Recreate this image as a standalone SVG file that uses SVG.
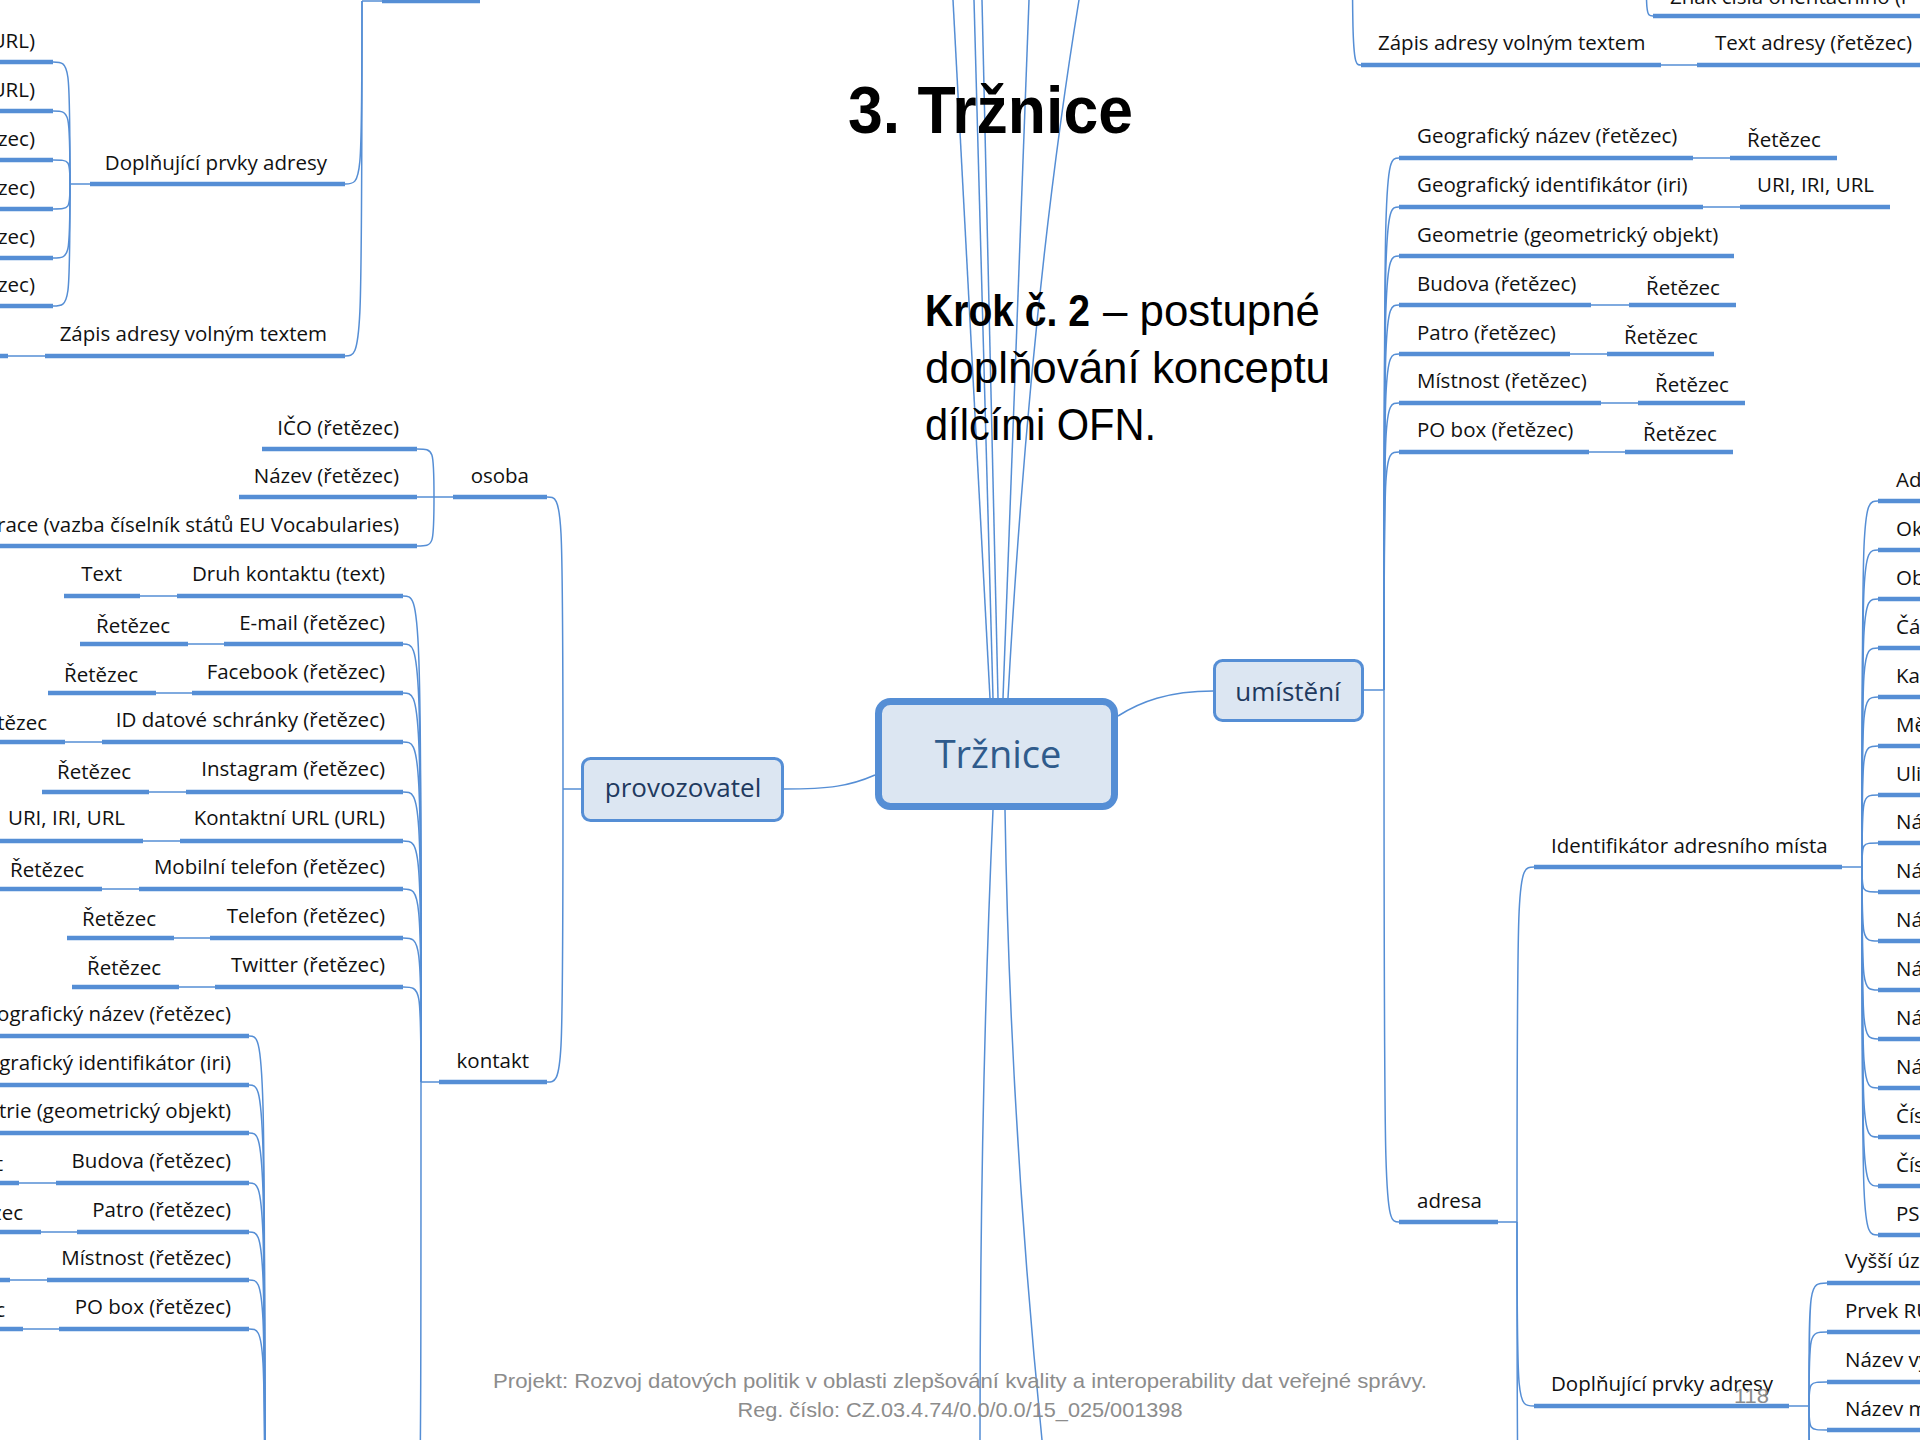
<svg xmlns="http://www.w3.org/2000/svg" width="1920" height="1440" viewBox="0 0 1920 1440">
<style>
.ul{stroke:#558ed5;stroke-width:4.5;fill:none}
.cn{stroke:#558ed5;stroke-width:1.5;fill:none}
.t{font-family:"Open Sans","Noto Sans",sans-serif;font-size:20.5px;fill:#111}
.e{text-anchor:end}
.box{fill:#dce6f2;stroke:#558ed5}
.foot{font-family:"Liberation Sans",Arial,sans-serif;font-size:21px;fill:#8c8c8c;text-anchor:middle}
.big{font-family:"Liberation Sans",Arial,sans-serif;font-size:44px;fill:#000}
</style>
<rect width="1920" height="1440" fill="#fff"/>

<g id="connectors">
<path class="cn" d="M 990,698 L 953,0"/>
<path class="cn" d="M 993,698 L 974,0"/>
<path class="cn" d="M 998,698 L 982,0"/>
<path class="cn" d="M 1003,698 L 1029,0"/>
<path class="cn" d="M 1008,698 Q 1030,300 1079,0"/>
<path class="cn" d="M 993,810 Q 980,1100 980,1440"/>
<path class="cn" d="M 1005,810 C 1008,1000 1018,1200 1042,1440"/>
<path class="cn" d="M 784,789 C 830,789 850,786 875,775"/>
<path class="cn" d="M 1118,716 C 1140,702 1168,691 1213,691"/>
<path class="cn" d="M 563,789 L 581,789"/>
<path class="cn" d="M 563,789 C 563,497 563,497 547,497"/>
<path class="cn" d="M 563,789 C 563,1082 563,1082 547,1082"/>
<path class="cn" d="M 453,497 L 434,497"/>
<path class="cn" d="M 434,497 C 434,449 434,449 417,449"/>
<path class="cn" d="M 434,497 L 417,497"/>
<path class="cn" d="M 434,497 C 434,546 434,546 417,546"/>
<path class="cn" d="M 439,1082 L 421,1082"/>
<path class="cn" d="M 421,1082 C 421,596 421,596 403,596"/>
<path class="cn" d="M 421,1082 C 421,644 421,644 403,644"/>
<path class="cn" d="M 421,1082 C 421,693 421,693 403,693"/>
<path class="cn" d="M 421,1082 C 421,742 421,742 403,742"/>
<path class="cn" d="M 421,1082 C 421,792 421,792 403,792"/>
<path class="cn" d="M 421,1082 C 421,841 421,841 403,841"/>
<path class="cn" d="M 421,1082 C 421,889 421,889 403,889"/>
<path class="cn" d="M 421,1082 C 421,938 421,938 403,938"/>
<path class="cn" d="M 421,1082 C 421,987 421,987 403,987"/>
<path class="cn" d="M 421,1082 C 421,1600 421,1600 403,1600"/>
<path class="cn" d="M 140,596 L 177,596"/>
<path class="cn" d="M 188,644 L 224,644"/>
<path class="cn" d="M 156,693 L 192,693"/>
<path class="cn" d="M 65,742 L 102,742"/>
<path class="cn" d="M 149,792 L 186,792"/>
<path class="cn" d="M 143,841 L 180,841"/>
<path class="cn" d="M 102,889 L 139,889"/>
<path class="cn" d="M 174,938 L 210,938"/>
<path class="cn" d="M 179,987 L 215,987"/>
<path class="cn" d="M 265,1600 C 265,1036 265,1036 249,1036"/>
<path class="cn" d="M 265,1600 C 265,1085 265,1085 249,1085"/>
<path class="cn" d="M 265,1600 C 265,1133 265,1133 249,1133"/>
<path class="cn" d="M 265,1600 C 265,1183 265,1183 249,1183"/>
<path class="cn" d="M 265,1600 C 265,1232 265,1232 249,1232"/>
<path class="cn" d="M 265,1600 C 265,1280 265,1280 249,1280"/>
<path class="cn" d="M 265,1600 C 265,1329 265,1329 249,1329"/>
<path class="cn" d="M 19,1183 L 56,1183"/>
<path class="cn" d="M 41,1232 L 77,1232"/>
<path class="cn" d="M 10,1280 L 47,1280"/>
<path class="cn" d="M 23,1329 L 59,1329"/>
<path class="cn" d="M 362,1 L 382,1"/>
<path class="cn" d="M 362,1 C 362,184 362,184 345,184"/>
<path class="cn" d="M 362,1 C 362,356 362,356 345,356"/>
<path class="cn" d="M 90,184 L 70,184"/>
<path class="cn" d="M 70,184 C 70,62 70,62 53,62"/>
<path class="cn" d="M 70,184 C 70,111 70,111 53,111"/>
<path class="cn" d="M 70,184 C 70,160 70,160 53,160"/>
<path class="cn" d="M 70,184 C 70,209 70,209 53,209"/>
<path class="cn" d="M 70,184 C 70,258 70,258 53,258"/>
<path class="cn" d="M 70,184 C 70,306 70,306 53,306"/>
<path class="cn" d="M 8,356 L 45,356"/>
<path class="cn" d="M 1364,690 L 1384,690"/>
<path class="cn" d="M 1384,690 C 1384,158 1384,158 1399,158"/>
<path class="cn" d="M 1384,690 C 1384,207 1384,207 1399,207"/>
<path class="cn" d="M 1384,690 C 1384,256 1384,256 1399,256"/>
<path class="cn" d="M 1384,690 C 1384,305 1384,305 1399,305"/>
<path class="cn" d="M 1384,690 C 1384,354 1384,354 1399,354"/>
<path class="cn" d="M 1384,690 C 1384,403 1384,403 1399,403"/>
<path class="cn" d="M 1384,690 C 1384,452 1384,452 1399,452"/>
<path class="cn" d="M 1384,690 C 1384,1222 1384,1222 1399,1222"/>
<path class="cn" d="M 1693,158 L 1730,158"/>
<path class="cn" d="M 1703,207 L 1740,207"/>
<path class="cn" d="M 1591,305 L 1629,305"/>
<path class="cn" d="M 1570,354 L 1607,354"/>
<path class="cn" d="M 1601,403 L 1638,403"/>
<path class="cn" d="M 1589,452 L 1625,452"/>
<path class="cn" d="M 1498,1222 L 1517,1222"/>
<path class="cn" d="M 1517,1222 C 1517,867 1517,867 1534,867"/>
<path class="cn" d="M 1517,1222 C 1517,1406 1517,1406 1534,1406"/>
<path class="cn" d="M 1517,1222 C 1517,1600 1517,1600 1534,1600"/>
<path class="cn" d="M 1842,867 L 1862,867"/>
<path class="cn" d="M 1862,867 C 1862,501 1862,501 1878,501"/>
<path class="cn" d="M 1862,867 C 1862,550 1862,550 1878,550"/>
<path class="cn" d="M 1862,867 C 1862,599 1862,599 1878,599"/>
<path class="cn" d="M 1862,867 C 1862,648 1862,648 1878,648"/>
<path class="cn" d="M 1862,867 C 1862,697 1862,697 1878,697"/>
<path class="cn" d="M 1862,867 C 1862,746 1862,746 1878,746"/>
<path class="cn" d="M 1862,867 C 1862,795 1862,795 1878,795"/>
<path class="cn" d="M 1862,867 C 1862,843 1862,843 1878,843"/>
<path class="cn" d="M 1862,867 C 1862,892 1862,892 1878,892"/>
<path class="cn" d="M 1862,867 C 1862,941 1862,941 1878,941"/>
<path class="cn" d="M 1862,867 C 1862,990 1862,990 1878,990"/>
<path class="cn" d="M 1862,867 C 1862,1039 1862,1039 1878,1039"/>
<path class="cn" d="M 1862,867 C 1862,1088 1862,1088 1878,1088"/>
<path class="cn" d="M 1862,867 C 1862,1137 1862,1137 1878,1137"/>
<path class="cn" d="M 1862,867 C 1862,1186 1862,1186 1878,1186"/>
<path class="cn" d="M 1862,867 C 1862,1235 1862,1235 1878,1235"/>
<path class="cn" d="M 1789,1406 L 1809,1406"/>
<path class="cn" d="M 1809,1406 C 1809,1283 1809,1283 1827,1283"/>
<path class="cn" d="M 1809,1406 C 1809,1332 1809,1332 1827,1332"/>
<path class="cn" d="M 1809,1406 C 1809,1382 1809,1382 1827,1382"/>
<path class="cn" d="M 1809,1406 C 1809,1430 1809,1430 1827,1430"/>
<path class="cn" d="M 1809,1406 C 1809,1479 1809,1479 1827,1479"/>
<path class="cn" d="M 1809,1406 C 1809,1528 1809,1528 1827,1528"/>
<path class="cn" d="M 1352,-200 C 1352,65 1352,65 1361,65"/>
<path class="cn" d="M 1661,65 L 1697,65"/>
<path class="cn" d="M 1646,-60 C 1646,16 1646,16 1653,16"/>
</g>

<g id="title">
<text x="848" y="133" font-family="Liberation Sans,Arial,sans-serif" font-weight="bold" font-size="66" textLength="285" lengthAdjust="spacingAndGlyphs" fill="#000">3. Tržnice</text>
</g>
<g id="krok">
<text class="big" x="925" y="326" font-weight="bold" textLength="165" lengthAdjust="spacingAndGlyphs">Krok č. 2</text>
<text class="big" x="1103" y="326" textLength="217" lengthAdjust="spacingAndGlyphs">– postupné</text>
<text class="big" x="925" y="383" textLength="405" lengthAdjust="spacingAndGlyphs">doplňování konceptu</text>
<text class="big" x="925" y="440" textLength="231" lengthAdjust="spacingAndGlyphs">dílčími OFN.</text>
</g>

<g id="n-trznice">
<rect class="box" x="878.5" y="701.5" width="236" height="105" rx="12" stroke-width="7"/>
<text x="998" y="768" font-family="Open Sans,Noto Sans,sans-serif" font-size="38" fill="#2f5b8c" text-anchor="middle">Tržnice</text>
</g>
<g id="n-provozovatel">
<rect class="box" x="582.5" y="758.5" width="200" height="62" rx="8" stroke-width="3"/>
<text x="683" y="797" font-family="Open Sans,Noto Sans,sans-serif" font-size="26" fill="#1f3a5f" text-anchor="middle">provozovatel</text>
</g>
<g id="n-umisteni">
<rect class="box" x="1214.5" y="660.5" width="148" height="60" rx="8" stroke-width="3"/>
<text x="1288" y="701" font-family="Open Sans,Noto Sans,sans-serif" font-size="26" fill="#1f3a5f" text-anchor="middle">umístění</text>
</g>

<g id="n-tl-parent"><line class="ul" x1="382" y1="1" x2="480" y2="1"/></g>
<g id="n-tl-1"><text class="t e" x="35" y="48">URL)</text><line class="ul" x1="0" y1="62" x2="53" y2="62"/></g>
<g id="n-tl-2"><text class="t e" x="35" y="97">URL)</text><line class="ul" x1="0" y1="111" x2="53" y2="111"/></g>
<g id="n-tl-3"><text class="t e" x="35" y="146">zec)</text><line class="ul" x1="0" y1="160" x2="53" y2="160"/></g>
<g id="n-tl-4"><text class="t e" x="35" y="195">zec)</text><line class="ul" x1="0" y1="209" x2="53" y2="209"/></g>
<g id="n-tl-5"><text class="t e" x="35" y="244">zec)</text><line class="ul" x1="0" y1="258" x2="53" y2="258"/></g>
<g id="n-tl-6"><text class="t e" x="35" y="292">zec)</text><line class="ul" x1="0" y1="306" x2="53" y2="306"/></g>
<g id="n-tl-dopl"><text class="t e" x="327" y="170">Doplňující prvky adresy</text><line class="ul" x1="90" y1="184" x2="345" y2="184"/></g>
<g id="n-tl-zapis"><text class="t e" x="327" y="341">Zápis adresy volným textem</text><line class="ul" x1="45" y1="356" x2="345" y2="356"/></g>
<g id="n-tl-zapis-c"><line class="ul" x1="0" y1="356" x2="8" y2="356"/></g>

<g id="n-osoba"><text class="t e" x="529" y="483">osoba</text><line class="ul" x1="453" y1="497" x2="547" y2="497"/></g>
<g id="n-ico"><text class="t e" x="399" y="435">IČO (řetězec)</text><line class="ul" x1="262" y1="449" x2="417" y2="449"/></g>
<g id="n-nazev"><text class="t e" x="399" y="483">Název (řetězec)</text><line class="ul" x1="239" y1="497" x2="417" y2="497"/></g>
<g id="n-zeme"><text class="t e" x="399" y="532">race (vazba číselník států EU Vocabularies)</text><line class="ul" x1="0" y1="546" x2="417" y2="546"/></g>

<g id="n-kontakt"><text class="t e" x="529" y="1068">kontakt</text><line class="ul" x1="439" y1="1082" x2="547" y2="1082"/></g>
<g id="n-druh"><text class="t e" x="385" y="581">Druh kontaktu (text)</text><line class="ul" x1="177" y1="596" x2="403" y2="596"/></g>
<g id="n-druh-c"><text class="t e" x="122" y="581">Text</text><line class="ul" x1="64" y1="596" x2="140" y2="596"/></g>
<g id="n-email"><text class="t e" x="385" y="630">E-mail (řetězec)</text><line class="ul" x1="224" y1="644" x2="403" y2="644"/></g>
<g id="n-email-c"><text class="t e" x="170" y="633">Řetězec</text><line class="ul" x1="80" y1="644" x2="188" y2="644"/></g>
<g id="n-fb"><text class="t e" x="385" y="679">Facebook (řetězec)</text><line class="ul" x1="192" y1="693" x2="403" y2="693"/></g>
<g id="n-fb-c"><text class="t e" x="138" y="682">Řetězec</text><line class="ul" x1="48" y1="693" x2="156" y2="693"/></g>
<g id="n-ids"><text class="t e" x="385" y="727">ID datové schránky (řetězec)</text><line class="ul" x1="102" y1="742" x2="403" y2="742"/></g>
<g id="n-ids-c"><text class="t e" x="47" y="730">tězec</text><line class="ul" x1="0" y1="742" x2="65" y2="742"/></g>
<g id="n-ig"><text class="t e" x="385" y="776">Instagram (řetězec)</text><line class="ul" x1="186" y1="792" x2="403" y2="792"/></g>
<g id="n-ig-c"><text class="t e" x="131" y="779">Řetězec</text><line class="ul" x1="42" y1="792" x2="149" y2="792"/></g>
<g id="n-url"><text class="t e" x="385" y="825">Kontaktní URL (URL)</text><line class="ul" x1="180" y1="841" x2="403" y2="841"/></g>
<g id="n-url-c"><text class="t e" x="125" y="825">URI, IRI, URL</text><line class="ul" x1="0" y1="841" x2="143" y2="841"/></g>
<g id="n-mob"><text class="t e" x="385" y="874">Mobilní telefon (řetězec)</text><line class="ul" x1="139" y1="889" x2="403" y2="889"/></g>
<g id="n-mob-c"><text class="t e" x="84" y="877">Řetězec</text><line class="ul" x1="0" y1="889" x2="102" y2="889"/></g>
<g id="n-tel"><text class="t e" x="385" y="923">Telefon (řetězec)</text><line class="ul" x1="210" y1="938" x2="403" y2="938"/></g>
<g id="n-tel-c"><text class="t e" x="156" y="926">Řetězec</text><line class="ul" x1="67" y1="938" x2="174" y2="938"/></g>
<g id="n-tw"><text class="t e" x="385" y="972">Twitter (řetězec)</text><line class="ul" x1="215" y1="987" x2="403" y2="987"/></g>
<g id="n-tw-c"><text class="t e" x="161" y="975">Řetězec</text><line class="ul" x1="72" y1="987" x2="179" y2="987"/></g>

<g id="n-ll-geonazev"><text class="t e" x="231" y="1021">ografický název (řetězec)</text><line class="ul" x1="0" y1="1036" x2="249" y2="1036"/></g>
<g id="n-ll-geoid"><text class="t e" x="231" y="1070">grafický identifikátor (iri)</text><line class="ul" x1="0" y1="1085" x2="249" y2="1085"/></g>
<g id="n-ll-geom"><text class="t e" x="231" y="1118">trie (geometrický objekt)</text><line class="ul" x1="0" y1="1133" x2="249" y2="1133"/></g>
<g id="n-ll-budova"><text class="t e" x="231" y="1168">Budova (řetězec)</text><line class="ul" x1="56" y1="1183" x2="249" y2="1183"/></g>
<g id="n-ll-budova-c"><text class="t e" x="3" y="1171">t</text><line class="ul" x1="0" y1="1183" x2="19" y2="1183"/></g>
<g id="n-ll-patro"><text class="t e" x="231" y="1217">Patro (řetězec)</text><line class="ul" x1="77" y1="1232" x2="249" y2="1232"/></g>
<g id="n-ll-patro-c"><text class="t e" x="23" y="1220">zec</text><line class="ul" x1="0" y1="1232" x2="41" y2="1232"/></g>
<g id="n-ll-mist"><text class="t e" x="231" y="1265">Místnost (řetězec)</text><line class="ul" x1="47" y1="1280" x2="249" y2="1280"/></g>
<g id="n-ll-mist-c"><line class="ul" x1="0" y1="1280" x2="10" y2="1280"/></g>
<g id="n-ll-pobox"><text class="t e" x="231" y="1314">PO box (řetězec)</text><line class="ul" x1="59" y1="1329" x2="249" y2="1329"/></g>
<g id="n-ll-pobox-c"><text class="t e" x="5" y="1317">c</text><line class="ul" x1="0" y1="1329" x2="23" y2="1329"/></g>

<g id="n-tr-znak"><text class="t" x="1670" y="4">Znak čísla orientačního (ř</text><line class="ul" x1="1653" y1="16" x2="1920" y2="16"/></g>
<g id="n-tr-zapis"><text class="t" x="1378" y="50">Zápis adresy volným textem</text><line class="ul" x1="1361" y1="65" x2="1661" y2="65"/></g>
<g id="n-tr-text"><text class="t" x="1715" y="50">Text adresy (řetězec)</text><line class="ul" x1="1697" y1="65" x2="1920" y2="65"/></g>

<g id="n-r-geonazev"><text class="t" x="1417" y="143">Geografický název (řetězec)</text><line class="ul" x1="1399" y1="158" x2="1693" y2="158"/></g>
<g id="n-r-geonazev-c"><text class="t" x="1747" y="147">Řetězec</text><line class="ul" x1="1730" y1="158" x2="1837" y2="158"/></g>
<g id="n-r-geoid"><text class="t" x="1417" y="192">Geografický identifikátor (iri)</text><line class="ul" x1="1399" y1="207" x2="1703" y2="207"/></g>
<g id="n-r-geoid-c"><text class="t" x="1757" y="192">URI, IRI, URL</text><line class="ul" x1="1740" y1="207" x2="1890" y2="207"/></g>
<g id="n-r-geom"><text class="t" x="1417" y="242">Geometrie (geometrický objekt)</text><line class="ul" x1="1399" y1="256" x2="1734" y2="256"/></g>
<g id="n-r-budova"><text class="t" x="1417" y="291">Budova (řetězec)</text><line class="ul" x1="1399" y1="305" x2="1591" y2="305"/></g>
<g id="n-r-budova-c"><text class="t" x="1646" y="295">Řetězec</text><line class="ul" x1="1629" y1="305" x2="1736" y2="305"/></g>
<g id="n-r-patro"><text class="t" x="1417" y="340">Patro (řetězec)</text><line class="ul" x1="1399" y1="354" x2="1570" y2="354"/></g>
<g id="n-r-patro-c"><text class="t" x="1624" y="344">Řetězec</text><line class="ul" x1="1607" y1="354" x2="1714" y2="354"/></g>
<g id="n-r-mist"><text class="t" x="1417" y="388">Místnost (řetězec)</text><line class="ul" x1="1399" y1="403" x2="1601" y2="403"/></g>
<g id="n-r-mist-c"><text class="t" x="1655" y="392">Řetězec</text><line class="ul" x1="1638" y1="403" x2="1745" y2="403"/></g>
<g id="n-r-pobox"><text class="t" x="1417" y="437">PO box (řetězec)</text><line class="ul" x1="1399" y1="452" x2="1589" y2="452"/></g>
<g id="n-r-pobox-c"><text class="t" x="1643" y="441">Řetězec</text><line class="ul" x1="1625" y1="452" x2="1733" y2="452"/></g>
<g id="n-r-adresa"><text class="t" x="1417" y="1208">adresa</text><line class="ul" x1="1399" y1="1222" x2="1498" y2="1222"/></g>
<g id="n-r-ident"><text class="t" x="1551" y="853">Identifikátor adresního místa</text><line class="ul" x1="1534" y1="867" x2="1842" y2="867"/></g>
<g id="n-r-dopl"><text class="t" x="1551" y="1391">Doplňující prvky adresy</text><line class="ul" x1="1534" y1="1406" x2="1789" y2="1406"/></g>

<g id="n-id-1"><text class="t" x="1896" y="487">Ad</text><line class="ul" x1="1878" y1="501" x2="1920" y2="501"/></g>
<g id="n-id-2"><text class="t" x="1896" y="536">Ok</text><line class="ul" x1="1878" y1="550" x2="1920" y2="550"/></g>
<g id="n-id-3"><text class="t" x="1896" y="585">Ob</text><line class="ul" x1="1878" y1="599" x2="1920" y2="599"/></g>
<g id="n-id-4"><text class="t" x="1896" y="634">Čá</text><line class="ul" x1="1878" y1="648" x2="1920" y2="648"/></g>
<g id="n-id-5"><text class="t" x="1896" y="683">Ka</text><line class="ul" x1="1878" y1="697" x2="1920" y2="697"/></g>
<g id="n-id-6"><text class="t" x="1896" y="732">Mě</text><line class="ul" x1="1878" y1="746" x2="1920" y2="746"/></g>
<g id="n-id-7"><text class="t" x="1896" y="781">Uli</text><line class="ul" x1="1878" y1="795" x2="1920" y2="795"/></g>
<g id="n-id-8"><text class="t" x="1896" y="829">Ná</text><line class="ul" x1="1878" y1="843" x2="1920" y2="843"/></g>
<g id="n-id-9"><text class="t" x="1896" y="878">Ná</text><line class="ul" x1="1878" y1="892" x2="1920" y2="892"/></g>
<g id="n-id-10"><text class="t" x="1896" y="927">Ná</text><line class="ul" x1="1878" y1="941" x2="1920" y2="941"/></g>
<g id="n-id-11"><text class="t" x="1896" y="976">Ná</text><line class="ul" x1="1878" y1="990" x2="1920" y2="990"/></g>
<g id="n-id-12"><text class="t" x="1896" y="1025">Ná</text><line class="ul" x1="1878" y1="1039" x2="1920" y2="1039"/></g>
<g id="n-id-13"><text class="t" x="1896" y="1074">Ná</text><line class="ul" x1="1878" y1="1088" x2="1920" y2="1088"/></g>
<g id="n-id-14"><text class="t" x="1896" y="1123">Čís</text><line class="ul" x1="1878" y1="1137" x2="1920" y2="1137"/></g>
<g id="n-id-15"><text class="t" x="1896" y="1172">Čís</text><line class="ul" x1="1878" y1="1186" x2="1920" y2="1186"/></g>
<g id="n-id-16"><text class="t" x="1896" y="1221">PS</text><line class="ul" x1="1878" y1="1235" x2="1920" y2="1235"/></g>

<g id="n-dp-1"><text class="t" x="1845" y="1268">Vyšší úz</text><line class="ul" x1="1827" y1="1283" x2="1920" y2="1283"/></g>
<g id="n-dp-2"><text class="t" x="1845" y="1318">Prvek RÚ</text><line class="ul" x1="1827" y1="1332" x2="1920" y2="1332"/></g>
<g id="n-dp-3"><text class="t" x="1845" y="1367">Název vy</text><line class="ul" x1="1827" y1="1382" x2="1920" y2="1382"/></g>
<g id="n-dp-4"><text class="t" x="1845" y="1416">Název m</text><line class="ul" x1="1827" y1="1430" x2="1920" y2="1430"/></g>

<g id="footer">
<text class="foot" x="960" y="1388" textLength="934" lengthAdjust="spacingAndGlyphs">Projekt: Rozvoj datových politik v oblasti zlepšování kvality a interoperability dat veřejné správy.</text>
<text class="foot" x="960" y="1417" textLength="445" lengthAdjust="spacingAndGlyphs">Reg. číslo: CZ.03.4.74/0.0/0.0/15_025/001398</text>
<text x="1734" y="1403" font-family="Liberation Sans,Arial,sans-serif" font-size="21" fill="#8c8c8c" textLength="35" lengthAdjust="spacingAndGlyphs">118</text>
</g>
</svg>
